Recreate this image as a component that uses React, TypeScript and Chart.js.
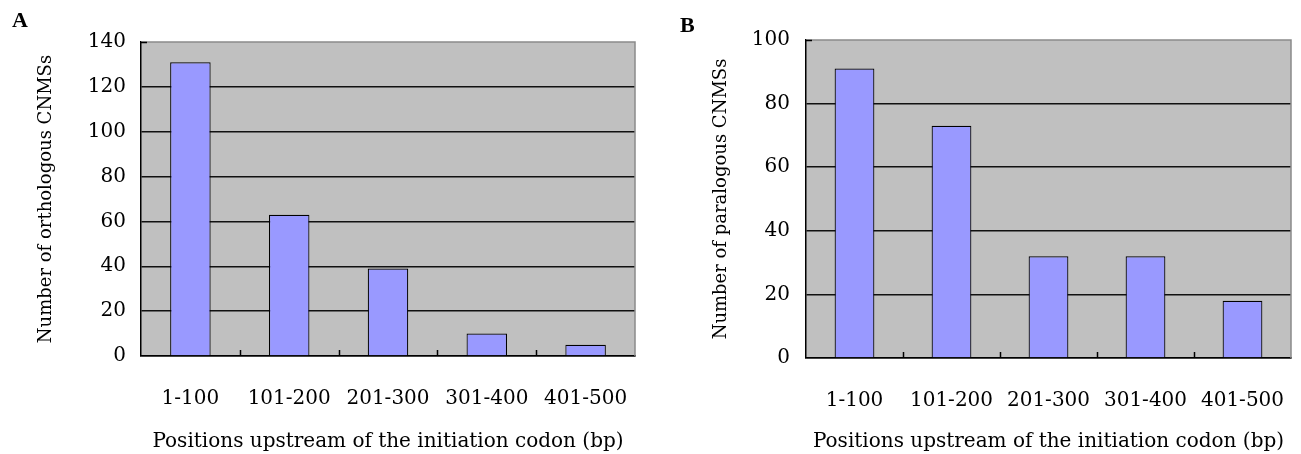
import React, { useEffect, useRef } from "react";
import { Chart, registerables } from "chart.js";

Chart.register(...registerables);

const categories = ["1-100", "101-200", "201-300", "301-400", "401-500"];
const orthologousCounts = [131, 63, 39, 10, 5];
const paralogousCounts = [91, 73, 32, 32, 18];
const orthologousMax = 140;
const paralogousMax = 100;
const tickStep = 20;
const xAxisTitle = "Positions upstream of the initiation codon (bp)";
const orthologousTitle = "Number of orthologous CNMSs";
const paralogousTitle = "Number of paralogous CNMSs";

const FONT = "'DejaVu Serif', serif";

const plotDecor = {
  id: "plotDecor",
  beforeDraw(chart: any) {
    const { ctx, chartArea: a } = chart;
    ctx.save();
    ctx.fillStyle = "#C0C0C0";
    ctx.fillRect(a.left, a.top, a.right - a.left, a.bottom - a.top);
    ctx.restore();
  },
  afterDraw(chart: any) {
    const { ctx, chartArea: a } = chart;
    const xs = chart.scales.x;
    ctx.save();
    ctx.strokeStyle = "#8a8a8a";
    ctx.lineWidth = 1.5;
    ctx.beginPath();
    ctx.moveTo(a.left, a.top);
    ctx.lineTo(a.right, a.top);
    ctx.lineTo(a.right, a.bottom);
    ctx.stroke();
    ctx.strokeStyle = "#000";
    ctx.lineWidth = 1.5;
    ctx.beginPath();
    for (let i = 1; i < categories.length; i++) {
      const x = Math.round((xs.getPixelForValue(i - 1) + xs.getPixelForValue(i)) / 2) + 0.5;
      ctx.moveTo(x, a.bottom);
      ctx.lineTo(x, a.bottom - 6);
    }
    ctx.moveTo(a.left, a.top + 0.5);
    ctx.lineTo(a.left + 6, a.top + 0.5);
    ctx.stroke();
    ctx.restore();
  },
};

type PanelProps = {
  left: number;
  width: number;
  values: number[];
  yMax: number;
  yTitle: string;
  letter: string;
  letterLeft: number;
  letterTop: number;
  padTop: number;
  padRight: number;
  yAxisWidth: number;
  yTitlePad: number;
  yTickPad: number;
  xAxisHeight: number;
};

function Panel(p: PanelProps) {
  const ref = useRef<HTMLCanvasElement>(null);
  useEffect(() => {
    const chart = new Chart(ref.current!, {
      type: "bar",
      data: {
        labels: categories,
        datasets: [
          {
            data: p.values,
            backgroundColor: "#9999FF",
            borderColor: "#000",
            borderWidth: 1.2,
            barPercentage: 0.41,
            categoryPercentage: 1,
          },
        ],
      },
      options: {
        animation: false,
        responsive: false,
        maintainAspectRatio: false,
        layout: { padding: { left: 0, top: p.padTop, right: p.padRight, bottom: 0 } },
        plugins: { legend: { display: false }, tooltip: { enabled: false }, title: { display: false } },
        scales: {
          x: {
            grid: { display: false },
            border: { display: true, color: "#000", width: 1.5 },
            ticks: { color: "#000", font: { family: FONT, size: 20 }, padding: 23 },
            title: {
              display: true,
              text: xAxisTitle,
              color: "#000",
              font: { family: FONT, size: 20 },
              padding: { top: 0, bottom: 0 },
            },
            afterFit: (s: any) => {
              s.height = p.xAxisHeight;
              s.paddingLeft = 0;
              s.paddingRight = 0;
            },
          },
          y: {
            min: 0,
            max: p.yMax,
            ticks: { stepSize: tickStep, color: "#000", font: { family: FONT, size: 20 }, padding: p.yTickPad },
            grid: {
              color: (c: any) => (c.tick && c.tick.value === p.yMax ? "rgba(0,0,0,0)" : "#111"),
              lineWidth: 1.5,
              drawTicks: false,
            },
            border: { display: true, color: "#000", width: 1.5 },
            title: {
              display: true,
              text: p.yTitle,
              color: "#000",
              font: { family: FONT, size: 18 },
              padding: { top: p.yTitlePad, bottom: 0 },
            },
            afterFit: (s: any) => {
              s.width = p.yAxisWidth;
              s.paddingTop = 0;
              s.paddingBottom = 0;
            },
          },
        },
      },
      plugins: [plotDecor],
    });
    return () => chart.destroy();
  }, []);
  return (
    <div style={{ position: "absolute", left: p.left, top: 0, width: p.width, height: 454 }}>
      <canvas ref={ref} width={p.width} height={454} style={{ display: "block" }} />
      <div
        style={{
          position: "absolute",
          left: p.letterLeft,
          top: p.letterTop,
          fontFamily: "'Liberation Serif', serif",
          fontWeight: "bold",
          fontSize: 22,
          lineHeight: "22px",
          color: "#000",
        }}
      >
        {p.letter}
      </div>
    </div>
  );
}

export default function App() {
  return (
    <div style={{ position: "absolute", left: 0, top: 0, width: 1301, height: 454, background: "#fff" }}>
      <Panel
        left={0}
        width={650}
        values={orthologousCounts}
        yMax={orthologousMax}
        yTitle={orthologousTitle}
        letter="A"
        letterLeft={12}
        letterTop={9}
        padTop={42}
        padRight={15}
        yAxisWidth={141}
        yTitlePad={36}
        yTickPad={15}
        xAxisHeight={98}
      />
      <Panel
        left={650}
        width={651}
        values={paralogousCounts}
        yMax={paralogousMax}
        yTitle={paralogousTitle}
        letter="B"
        letterLeft={30}
        letterTop={14}
        padTop={40}
        padRight={10}
        yAxisWidth={156}
        yTitlePad={61}
        yTickPad={16}
        xAxisHeight={96}
      />
    </div>
  );
}
